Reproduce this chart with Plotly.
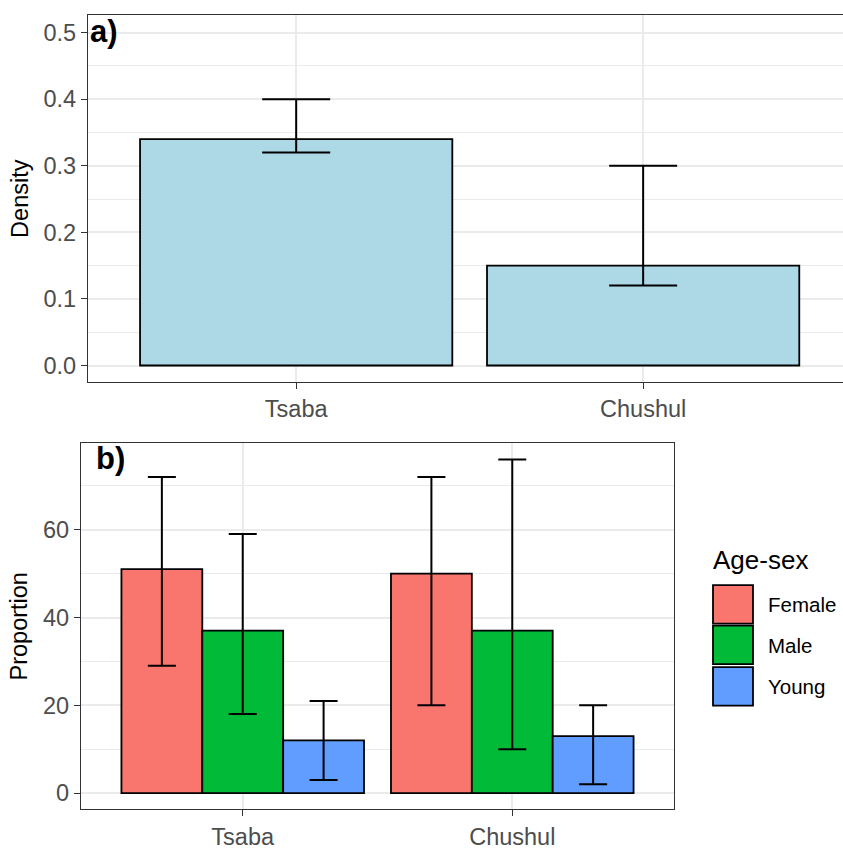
import plotly.graph_objects as go

# ---- data ----
sites = ["Tsaba", "Chushul"]
density = [0.34, 0.15]
density_low = [0.32, 0.12]
density_high = [0.40, 0.30]

groups = ["Female", "Male", "Young"]
group_colors = ["#F8766D", "#00BA38", "#619CFF"]
proportion = {"Female": [51, 50], "Male": [37, 37], "Young": [12, 13]}
prop_low = {"Female": [29, 20], "Male": [18, 10], "Young": [3, 2]}
prop_high = {"Female": [72, 72], "Male": [59, 76], "Young": [21, 20]}

W, H = 843, 850
FONT = "Liberation Sans, Arial, sans-serif"
TICKC = "#4D4D4D"
LINEC = "#333333"
GRID = "#EBEBEB"


def px_x(v):
    return v / W


def px_y(v):
    return 1 - v / H


fig = go.Figure()

fig.add_trace(go.Bar(
    x=sites, y=density, width=0.9,
    marker=dict(color="#ADD8E6", line=dict(color="black", width=1.8)),
    error_y=dict(type="data", symmetric=False,
                 array=[h - v for h, v in zip(density_high, density)],
                 arrayminus=[v - l for v, l in zip(density, density_low)],
                 color="black", thickness=2, width=34),
    xaxis="x", yaxis="y", showlegend=False,
))

for g, c in zip(groups, group_colors):
    fig.add_trace(go.Bar(
        x=sites, y=proportion[g], name=g,
        marker=dict(color=c, line=dict(color="black", width=1.8)),
        error_y=dict(type="data", symmetric=False,
                     array=[h - v for h, v in zip(prop_high[g], proportion[g])],
                     arrayminus=[v - l for v, l in zip(proportion[g], prop_low[g])],
                     color="black", thickness=2, width=14),
        xaxis="x2", yaxis="y2", showlegend=False,
    ))

axis_common = dict(
    showline=True, linecolor=LINEC, linewidth=1.2,
    ticks="outside", ticklen=6, tickcolor=LINEC, tickwidth=1.2,
    tickfont=dict(family=FONT, size=23.5, color=TICKC),
    showgrid=True, gridcolor=GRID, gridwidth=1.5, zeroline=False,
)

fig.update_layout(
    width=W, height=H,
    margin=dict(l=0, r=0, t=0, b=0),
    paper_bgcolor="white", plot_bgcolor="white",
    barmode="group", bargap=0.1, bargroupgap=0,
    font=dict(family=FONT, color="black"),
    xaxis=dict(axis_common, domain=[px_x(88), 1.0], range=[-0.6, 1.576],
               type="category", anchor="y", mirror=True),
    yaxis=dict(axis_common, domain=[px_y(386.7), px_y(15.5)], range=[-0.025, 0.526],
               anchor="x", tickvals=[0, 0.1, 0.2, 0.3, 0.4, 0.5], tickformat=".1f",
               minor=dict(tickvals=[0.05, 0.15, 0.25, 0.35, 0.45], showgrid=True,
                          gridcolor=GRID, gridwidth=0.8, ticks=""),
               title=dict(text="Density", font=dict(family=FONT, size=23.5, color="black"),
                          standoff=8)),
    xaxis2=dict(axis_common, domain=[px_x(81), px_x(674)], range=[-0.6, 1.6],
                type="category", anchor="y2", mirror=True),
    yaxis2=dict(axis_common, domain=[px_y(819), px_y(448.5)], range=[-3.7, 79.7],
                anchor="x2", mirror=True, tickvals=[0, 20, 40, 60],
                minor=dict(tickvals=[10, 30, 50, 70], showgrid=True,
                           gridcolor=GRID, gridwidth=0.8, ticks=""),
                title=dict(text="Proportion", font=dict(family=FONT, size=23.5, color="black"),
                           standoff=8)),
)

annotations = [
    dict(text="<b>a)</b>", x=px_x(88), y=px_y(12), xref="paper", yref="paper",
         xanchor="left", yanchor="top", showarrow=False,
         font=dict(family=FONT, size=31, color="black")),
    dict(text="<b>b)</b>", x=px_x(94), y=px_y(444), xref="paper", yref="paper",
         xanchor="left", yanchor="top", showarrow=False,
         font=dict(family=FONT, size=31, color="black")),
    dict(text="Age-sex", x=px_x(711), y=px_y(567), xref="paper", yref="paper",
         xanchor="left", yanchor="middle", showarrow=False,
         font=dict(family=FONT, size=26, color="black")),
]

shapes = []
key_tops = [592, 633, 675]
for g, c, t in zip(groups, group_colors, key_tops):
    shapes.append(dict(type="rect", xref="paper", yref="paper",
                       x0=px_x(713), x1=px_x(753), y0=px_y(t + 39), y1=px_y(t),
                       fillcolor=c, line=dict(color="black", width=1.8)))
    annotations.append(dict(text=g, x=px_x(766), y=px_y(t + 20), xref="paper", yref="paper",
                            xanchor="left", yanchor="middle", showarrow=False,
                            font=dict(family=FONT, size=20.5, color="black")))

fig.update_layout(annotations=annotations, shapes=shapes)

fig.write_html(
    "out.html",
    config={"displayModeBar": False},
    post_script=(
        "document.documentElement.style.margin='0';"
        "document.documentElement.style.padding='0';"
        "document.documentElement.style.overflow='hidden';"
        "document.body.style.margin='0';"
        "document.body.style.padding='0';"
        "document.body.style.overflow='hidden';"
    ),
)
